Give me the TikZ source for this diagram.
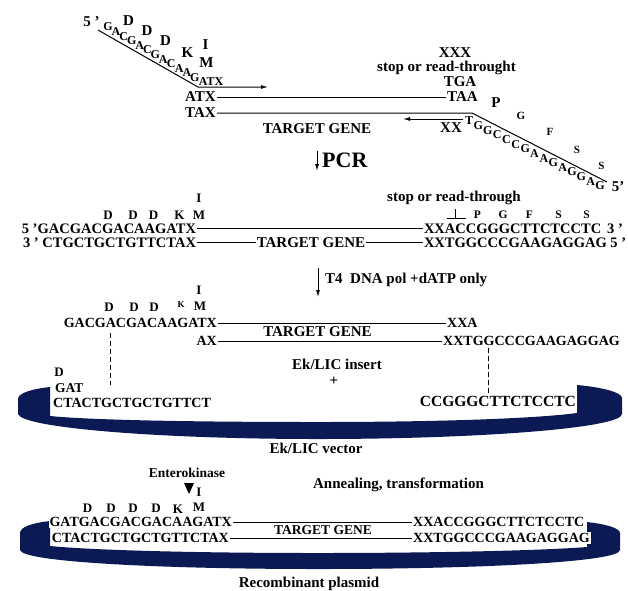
\documentclass[tikz,border=0pt]{standalone}
\usepackage{fontspec}
\setmainfont{Liberation Serif}
\usetikzlibrary{arrows.meta}
\definecolor{bandcol}{HTML}{0B1A54}
\newcommand\fz[1]{\fontsize{#1}{#1}\selectfont\bfseries}
\begin{document}
\begin{tikzpicture}[x=1pt,y=-1pt,
  lbl/.style={inner sep=0pt, font=\fz{15}},
  seq/.style={inner sep=1pt, font=\fz{15}, text height=9.9pt, text depth=0pt},
  seqm/.style={inner sep=0.8pt, font=\fz{14.5}, text height=9.6pt, text depth=0pt},
  seqs/.style={inner sep=1pt, font=\fz{14}, text height=9.3pt, text depth=0pt},
  aa/.style={inner sep=0pt, font=\fz{13}},
  tinyl/.style={inner sep=0pt, font=\fz{11}},
  diag/.style={inner sep=0pt, font=\fz{12}},
  strand/.style={line width=1pt},
  arr/.style={line width=1pt, -{Latex[length=7pt,width=4pt]}},
  guide/.style={line width=0.8pt, dash pattern=on 5pt off 3pt},
  bandfill/.style={fill=bandcol}]
\useasboundingbox (0,0) rectangle (628,590);

% ---------- top: primers on template ----------
\node[lbl] (p5a) at (91.5,22) {5 '};
\foreach \L [count=\i from 0] in {G,A,C,G,A,C,G,A,C,A,A,G}
  \node[diag] (lg\i) at ({108+7.9*\i},{27+4.6*\i}) {\L};
\node[inner sep=0pt, font=\fz{12}] (atxs) at (211,81.5) {ATX};
\coordinate (lp0) at (98,30);
\coordinate (lp1) at (198,87);
\coordinate (lp2) at (268,87);
\draw[arr] (lp0) -- (lp1) -- (lp2);

\node[lbl] (d1a) at (128.5,21) {D};
\node[lbl] (d1b) at (147,30.5) {D};
\node[lbl] (d1c) at (165.5,41) {D};
\node[lbl] (k1) at (187.5,52.5) {K};
\node[lbl] (i1) at (205.5,45) {I};
\node[lbl] (m1) at (206.5,62.5) {M};

\node[seq, anchor=east] (atx) at (217,97) {ATX};
\node[seq, anchor=west] (taa) at (446,97) {TAA};
\draw[strand] (atx.east) -- (taa.west);
\node[seq, anchor=east] (tax) at (217,113) {TAX};
\coordinate (rp1) at (472,113);
\coordinate (rp2) at (607,182);
\draw[strand] (tax.east) -- (rp1) -- (rp2);

\node[seq] (xxx) at (455,53) {XXX};
\node[lbl] (stop1) at (446.5,68) {stop or read-throught};
\node[seq] (tga) at (460,82) {TGA};

\coordinate (la0) at (463,119);
\coordinate (la1) at (403,119);
\draw[arr] (la0) -- (la1);
\node[seq] (xx1) at (451,128) {XX};
\foreach \L [count=\i from 0] in {T,G,G,C,C,C,G,A,A,G,A,G,G,A,G}
  \node[diag] (rg\i) at ({469+9.36*\i},{121+4.64*\i}) {\L};
\node[lbl] (pp1) at (496,103) {P};
\node[tinyl] (gg1) at (521,116) {G};
\node[tinyl] (ff1) at (550,132) {F};
\node[tinyl] (ss1) at (577,150) {S};
\node[tinyl] (ss2) at (601.5,166) {S};
\node[lbl] (p5b) at (618,187) {5'};

\node[seq] (tg1) at (317,128.5) {TARGET GENE};

\coordinate (pa0) at (317,151);
\coordinate (pa1) at (317,171);
\draw[arr] (pa0) -- (pa1);
\node[inner sep=0pt, font=\fz{22}, anchor=west] (pcr) at (322,160) {PCR};

% ---------- PCR product ----------
\node[aa] (i2) at (199,198.5) {I};
\node[aa] (m2) at (199,215) {M};
\node[aa] (d2a) at (108,215) {D};
\node[aa] (d2b) at (133,215) {D};
\node[aa] (d2c) at (153.5,215) {D};
\node[aa] (k2) at (179.5,215) {K};

\node[seqm, anchor=east] (l2a) at (197,228.5) {5 'GACGACGACAAGATX};
\node[seqm, anchor=east] (l2b) at (197,242.5) {3 ' CTGCTGCTGTTCTAX};
\node[seqm, anchor=west] (r2a) at (423,228.5) {XXACCGGGCTTCTCCTC\hspace{6pt}3 '};
\node[seqm, anchor=west] (r2b) at (423,242.5) {XXTGGCCCGAAGAGGAG 5 '};
\draw[strand] (l2a.east) -- (r2a.west);
\draw[strand] (l2b.east) -- (r2b.west);
\node[seq, fill=white, inner sep=0.5pt] (tg2) at (311,242.5) {TARGET GENE};

\node[lbl] (stop2) at (454,198) {stop or read-through};
\coordinate (tk0) at (455,209);
\coordinate (tk1) at (455,218);
\coordinate (tk2) at (447,218);
\coordinate (tk3) at (466,218);
\draw[strand] (tk0) -- (tk1) (tk2) -- (tk3);
\node[inner sep=0pt, font=\fz{11.5}] (pp2) at (477.5,214.5) {P};
\node[inner sep=0pt, font=\fz{11.5}] (gg2) at (503,214.5) {G};
\node[inner sep=0pt, font=\fz{11.5}] (ff2) at (529.5,214.5) {F};
\node[inner sep=0pt, font=\fz{11.5}] (ss3) at (558.5,214.5) {S};
\node[inner sep=0pt, font=\fz{11.5}] (ss4) at (586.5,214.5) {S};

\coordinate (ta0) at (318,268);
\coordinate (ta1) at (318,297);
\draw[arr] (ta0) -- (ta1);
\node[lbl, anchor=west] (t4) at (325,280) {T4\ \ DNA pol +dATP only};

% ---------- vector band 1 ----------
\fill[bandfill] (50,387) .. controls (32,389) and (18,393) .. (18,399) -- (18,414)
  .. controls (22,428) and (160,439) .. (318,439)
  .. controls (480,439) and (622,428) .. (622,414) -- (622,398)
  .. controls (622,392) and (600,387) .. (577,385) -- (577,413)
  .. controls (540,418) and (450,422) .. (318,422)
  .. controls (190,422) and (90,420) .. (50,416) -- cycle;

% ---------- LIC insert ----------
\node[aa] (i3) at (199,290) {I};
\node[aa] (m3) at (200,306) {M};
\node[aa] (d3a) at (109,307.5) {D};
\node[aa] (d3b) at (134,307.5) {D};
\node[aa] (d3c) at (154,307.5) {D};
\node[inner sep=0pt, font=\fz{9}] (k3) at (181,304.5) {K};

\node[seqs, anchor=east] (l3a) at (218,323) {GACGACGACAAGATX};
\node[seqs, anchor=west] (r3a) at (446,323) {XXA};
\node[seqs, anchor=east] (l3b) at (218,341) {AX};
\node[seqs, anchor=west] (r3b) at (442,341) {XXTGGCCCGAAGAGGAG};
\draw[strand] (l3a.east) -- (r3a.west);
\draw[strand] (l3b.east) -- (r3b.west);
\node[seq] (tg3) at (317.5,332) {TARGET GENE};
\node[lbl] (ekins) at (337,364) {Ek/LIC insert};
\node[lbl] (plus) at (334,381) {+};

\coordinate (dl0) at (110,333);
\coordinate (dl1) at (110,385);
\coordinate (dr0) at (488,348);
\coordinate (dr1) at (488,395);
\draw[guide] (dl0) -- (dl1);
\draw[guide] (dr0) -- (dr1);

\node[aa] (d4) at (59,372.5) {D};
\node[inner sep=0pt, font=\fz{13.5}, anchor=west] (gat) at (55,388) {GAT};
\node[seqs, anchor=west] (vl) at (52,402.5) {CTACTGCTGCTGTTCT};
\node[seq, anchor=east, font=\fz{15.5}] (vr) at (577,402) {CCGGGCTTCTCCTC};

\node[lbl] (ekvec) at (316,448) {Ek/LIC vector};

% ---------- recombinant plasmid ----------
\fill[bandfill] (50,521) .. controls (32,523) and (20,527) .. (20,533) -- (20,550)
  .. controls (22,562) and (160,569) .. (318,569)
  .. controls (480,569) and (620,562) .. (620,550) -- (620,533)
  .. controls (620,528) and (605,524) .. (587,522) -- (587,547)
  .. controls (550,550) and (450,553) .. (318,553)
  .. controls (190,553) and (90,550) .. (50,546) -- cycle;

\node[inner sep=0pt, font=\fz{13.5}] (ek) at (187,473) {Enterokinase};
\fill (184,483) -- (194,483) -- (189,494) -- cycle;
\node[aa] (i5) at (199,492.5) {I};
\node[aa] (d5a) at (87.5,508) {D};
\node[aa] (d5b) at (111,508) {D};
\node[aa] (d5c) at (133,508) {D};
\node[aa] (d5d) at (156,508) {D};
\node[aa] (k5) at (178,509) {K};
\node[aa] (m5) at (199,507.5) {M};
\node[lbl] (anneal) at (398.5,484.5) {Annealing, transformation};

\node[seqs, anchor=east, fill=white] (l5a) at (233,522) {GATGACGACGACAAGATX};
\node[seqs, anchor=east, fill=white] (l5b) at (230,538) {CTACTGCTGCTGTTCTAX};
\node[seqs, anchor=west, fill=white] (r5a) at (412,522) {XXACCGGGCTTCTCCTC};
\node[seqs, anchor=west, fill=white] (r5b) at (412,538) {XXTGGCCCGAAGAGGAG};
\draw[strand] (l5a.east) -- (r5a.west);
\draw[strand] (l5b.east) -- (r5b.west);
\node[inner sep=0pt, font=\fz{13.5}] (tg5) at (323,530) {TARGET GENE};

\node[lbl] (recomb) at (309,583.5) {Recombinant plasmid};
\end{tikzpicture}
\end{document}
